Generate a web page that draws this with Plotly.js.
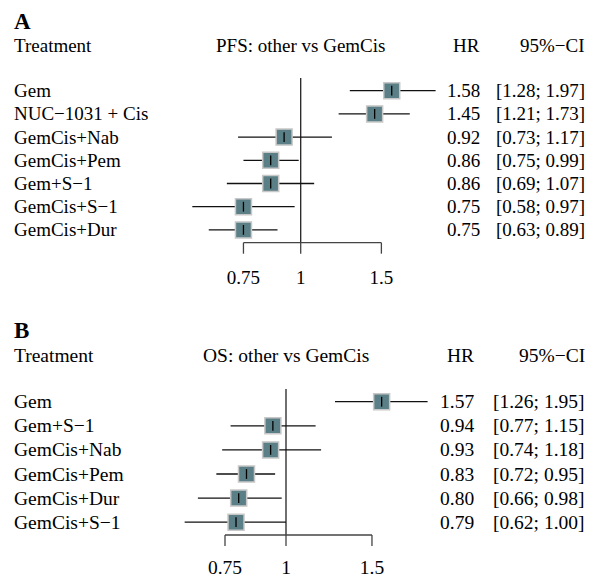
<!DOCTYPE html>
<html><head><meta charset="utf-8">
<script src="https://cdn.plot.ly/plotly-3.0.1.min.js"></script>
<style>html,body{margin:0;padding:0;background:#fff}</style>
</head><body><div id="chart" style="width:596px;height:581px"></div>
<script>
// ---- data ----
const pfsTreatments = ["Gem","NUC\u22121031 + Cis","GemCis+Nab","GemCis+Pem","Gem+S\u22121","GemCis+S\u22121","GemCis+Dur"];
const pfsHR    = [1.58,1.45,0.92,0.86,0.86,0.75,0.75];
const pfsLower = [1.28,1.21,0.73,0.75,0.69,0.58,0.63];
const pfsUpper = [1.97,1.73,1.17,0.99,1.07,0.97,0.89];

const osTreatments = ["Gem","Gem+S\u22121","GemCis+Nab","GemCis+Pem","GemCis+Dur","GemCis+S\u22121"];
const osHR    = [1.57,0.94,0.93,0.83,0.80,0.79];
const osLower = [1.26,0.77,0.74,0.72,0.66,0.62];
const osUpper = [1.95,1.15,1.18,0.95,0.98,1.00];

const tickVals = [0.75,1,1.5];
const tickText = ["0.75","1","1.5"];

// ---- styling / layout ----
const W = 596, H = 581;
const FONT = "'Liberation Serif', 'Times New Roman', 'DejaVu Serif', serif";
const BOX = "#5b7f86", BOXLINE = "#c8c8c8";

function fmt2(v){ return v.toFixed(2); }

const panels = [
  {letter:"A", title:"PFS: other vs GemCis", names:pfsTreatments, hr:pfsHR, lo:pfsLower, hi:pfsUpper,
   xa:"x", ya:"y", xkey:"xaxis", ykey:"yaxis",
   rowTop:90.7, step:23.2, axisPx:242.7, vtopPx:78, tickLen:11,
   xpx:[180,450], onePx:300.7, perLog:458.2, plotTop:60, plotBot:256,
   headY:45.5, letterY:22, hrRight:482, ciRight:587, fs:19, standoff:8},
  {letter:"B", title:"OS: other vs GemCis", names:osTreatments, hr:osHR, lo:osLower, hi:osUpper,
   xa:"x2", ya:"y2", xkey:"xaxis2", ykey:"yaxis2",
   rowTop:401.7, step:24.1, axisPx:535, vtopPx:389, tickLen:11,
   xpx:[170,450], onePx:286, perLog:488.2, plotTop:375, plotBot:549,
   headY:355, letterY:330, hrRight:476, ciRight:587, fs:19.5, standoff:4}
];

const traces = [], annotations = [], layout = {
  width:W, height:H, margin:{l:0,r:0,t:0,b:0}, showlegend:false,
  paper_bgcolor:"#fff", plot_bgcolor:"#fff", font:{family:FONT, color:"#000"},
  annotations:annotations
};

panels.forEach(p => {
  const rowOf = px => (px - p.rowTop)/p.step;
  const idx = p.names.map((_,i)=>i);
  const axisRow = rowOf(p.axisPx);
  const tickRow = rowOf(p.axisPx + p.tickLen);

  layout[p.xkey] = {
    type:"log", domain:[p.xpx[0]/W, p.xpx[1]/W],
    range:[(p.xpx[0]-p.onePx)/p.perLog, (p.xpx[1]-p.onePx)/p.perLog],
    anchor:p.ya, showgrid:false, zeroline:false, showline:false, ticks:"",
    tickvals:tickVals, ticktext:tickText, ticklabelstandoff:p.standoff,
    tickfont:{family:FONT, size:p.fs, color:"#000"}, fixedrange:true
  };
  layout[p.ykey] = {
    domain:[1-p.plotBot/H, 1-p.plotTop/H],
    range:[rowOf(p.plotBot), rowOf(p.plotTop)],
    anchor:p.xa, showgrid:false, zeroline:false, showline:false, showticklabels:false, ticks:"", fixedrange:true
  };

  // reference line at 1
  traces.push({type:"scatter", mode:"lines", xaxis:p.xa, yaxis:p.ya,
    x:[1,1], y:[rowOf(p.vtopPx), axisRow], line:{color:"#222", width:1.3}, hoverinfo:"skip"});
  // axis line from first to last tick
  traces.push({type:"scatter", mode:"lines", xaxis:p.xa, yaxis:p.ya,
    x:[tickVals[0], tickVals[tickVals.length-1]], y:[axisRow, axisRow], line:{color:"#444", width:1.3}, hoverinfo:"skip"});
  // tick marks
  const tx = [], ty = [];
  tickVals.forEach(v => { tx.push(v, v, null); ty.push(axisRow, tickRow, null); });
  traces.push({type:"scatter", mode:"lines", xaxis:p.xa, yaxis:p.ya,
    x:tx, y:ty, line:{color:"#444", width:1.3}, hoverinfo:"skip"});
  // CI lines
  const cx = [], cy = [];
  idx.forEach(i => { cx.push(p.lo[i], p.hi[i], null); cy.push(i, i, null); });
  traces.push({type:"scatter", mode:"lines", xaxis:p.xa, yaxis:p.ya,
    x:cx, y:cy, line:{color:"#111", width:1.3}, hoverinfo:"skip"});
  // squares
  traces.push({type:"scatter", mode:"markers", xaxis:p.xa, yaxis:p.ya,
    x:p.hr, y:idx, marker:{symbol:"square", size:16, color:BOX, line:{color:BOXLINE, width:1.5}}, hoverinfo:"x"});
  // center tick
  traces.push({type:"scatter", mode:"markers", xaxis:p.xa, yaxis:p.ya,
    x:p.hr, y:idx, marker:{symbol:"line-ns-open", size:7, color:"#000", line:{color:"#000", width:1.3}}, hoverinfo:"skip"});

  const f = {family:FONT, size:p.fs, color:"#000"};
  idx.forEach(i => {
    annotations.push({xref:"paper", yref:p.ya, x:12/W, y:i, xanchor:"left", yanchor:"middle", text:p.names[i], showarrow:false, font:f});
    annotations.push({xref:"paper", yref:p.ya, x:p.hrRight/W, y:i, xanchor:"right", yanchor:"middle", text:fmt2(p.hr[i]), showarrow:false, font:f});
    annotations.push({xref:"paper", yref:p.ya, x:p.ciRight/W, y:i, xanchor:"right", yanchor:"middle",
      text:"[" + fmt2(p.lo[i]) + "; " + fmt2(p.hi[i]) + "]", showarrow:false, font:f});
  });
  const hy = 1 - p.headY/H;
  annotations.push({xref:"paper", yref:"paper", x:12/W, y:1-p.letterY/H, xanchor:"left", yanchor:"middle", text:"<b>"+p.letter+"</b>", showarrow:false, font:{family:FONT, size:23, color:"#000"}});
  annotations.push({xref:"paper", yref:"paper", x:12/W, y:hy, xanchor:"left", yanchor:"middle", text:"Treatment", showarrow:false, font:f});
  annotations.push({xref:"paper", yref:"paper", x:p.onePx/W, y:hy, xanchor:"center", yanchor:"middle", text:p.title, showarrow:false, font:f});
  annotations.push({xref:"paper", yref:"paper", x:p.hrRight/W, y:hy, xanchor:"right", yanchor:"middle", text:"HR", showarrow:false, font:f});
  annotations.push({xref:"paper", yref:"paper", x:p.ciRight/W, y:hy, xanchor:"right", yanchor:"middle", text:"95%\u2212CI", showarrow:false, font:f});
});

Plotly.newPlot("chart", traces, layout, {staticPlot:true, displayModeBar:false});
</script>
</body></html>
